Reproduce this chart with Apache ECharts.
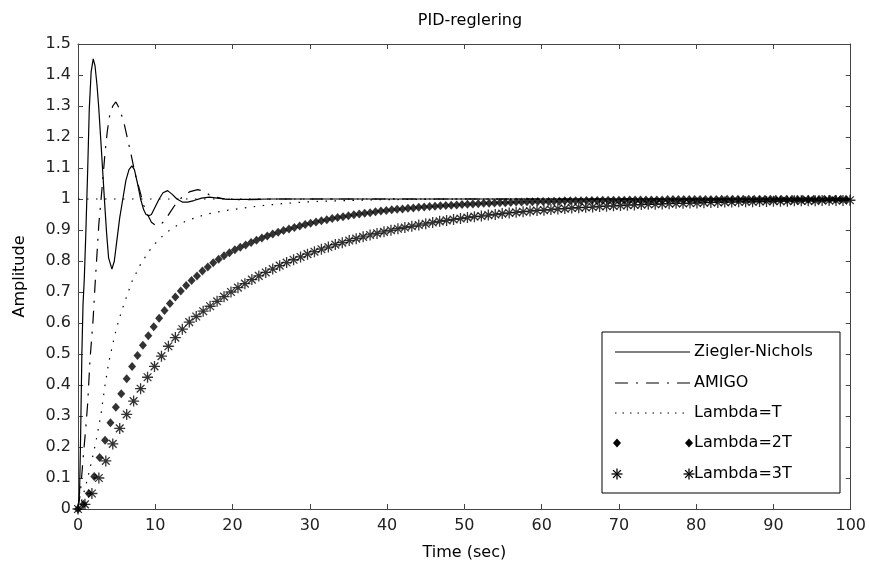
<!DOCTYPE html>
<html>
<head>
<meta charset="UTF-8">
<title>PID-reglering</title>
<script src="https://cdn.jsdelivr.net/npm/echarts@6.0.0/dist/echarts.min.js"></script>
<style>
  html, body { margin: 0; padding: 0; background: #fff; }
  #chart { width: 869px; height: 572px; }
</style>
</head>
<body>
<div id="chart"></div>
<script>
// values (time in sec, amplitude)
var tZN = [0, 0.2, 0.35, 0.5, 0.65, 0.81, 1.0, 1.25, 1.46, 1.7,
    1.97, 2.2, 2.45, 2.67, 3.0, 3.4, 3.7, 3.96, 4.39, 4.7,
    5.0, 5.4, 5.8, 6.2, 6.6, 6.97, 7.3, 7.7, 8.1, 8.5,
    8.8, 9.16, 9.5, 10, 10.5, 11, 11.6, 12.2, 12.8, 13.5,
    14.2, 15, 16, 17, 18, 19, 20, 22, 25, 100];
var yZN = [0, 0.05, 0.25, 0.5, 0.66, 0.74, 0.88, 1.09, 1.29, 1.41,
    1.452, 1.43, 1.37, 1.30, 1.17, 1.006, 0.89, 0.81, 0.774, 0.80,
    0.86, 0.94, 1.0, 1.06, 1.095, 1.107, 1.095, 1.05, 1.0, 0.965,
    0.95, 0.946, 0.95, 0.975, 1.0, 1.02, 1.027, 1.015, 1.0, 0.99,
    0.99, 0.995, 1.003, 1.006, 1.003, 1.0, 0.999, 0.999, 1.0, 1.0];

var tAmigo = [0, 0.3, 0.65, 1, 1.25, 1.55, 1.95, 2.2, 2.45, 2.7,
    2.95, 3.2, 3.5, 3.8, 4.1, 4.5, 4.9, 5.4, 6, 6.45,
    6.9, 7.4, 7.96, 8.5, 9, 9.5, 10.1, 10.7, 11.2, 12,
    12.8, 13.8, 14.5, 15.5, 16.3, 17, 18, 19, 20, 22,
    25, 100];
var yAmigo = [0, 0.05, 0.16, 0.26, 0.34, 0.48, 0.61, 0.72, 0.82, 0.92,
    0.99, 1.06, 1.15, 1.22, 1.27, 1.30, 1.313, 1.29, 1.24, 1.19,
    1.14, 1.08, 1.03, 0.98, 0.95, 0.925, 0.914, 0.918, 0.93, 0.96,
    0.99, 1.013, 1.024, 1.03, 1.025, 1.013, 1.005, 1.0, 0.998, 0.998,
    1.0, 1.0];

var tLamT = [0, 0.5, 1, 1.5, 2, 2.5, 3, 3.5, 4, 4.5,
    5, 5.5, 6, 6.5, 7, 7.5, 8, 8.5, 9, 9.5,
    10, 11, 12, 13, 14, 15, 16, 17, 18, 20,
    22, 24, 26, 28, 30, 33, 36, 40, 50, 100];
var yLamT = [0, 0.03, 0.075, 0.125, 0.18, 0.24, 0.31, 0.4, 0.475, 0.533,
    0.585, 0.627, 0.665, 0.70, 0.735, 0.76, 0.785, 0.805, 0.825, 0.842,
    0.857, 0.882, 0.902, 0.917, 0.929, 0.938, 0.946, 0.953, 0.958, 0.966,
    0.973, 0.979, 0.984, 0.988, 0.991, 0.994, 0.996, 0.998, 1.0, 1.0];

var tLam2 = [0, 0.7, 1.4, 2.1, 2.8, 3.5, 4.2, 4.9, 5.6, 6.3,
    7, 7.7, 8.4, 9.1, 9.8, 10.5, 11.2, 11.9, 12.6, 13.3,
    14, 14.7, 15.4, 16.1, 16.8, 17.5, 18.2, 18.9, 19.6, 20.3,
    21, 21.7, 22.4, 23.1, 23.8, 24.5, 25.2, 25.9, 26.6, 27.3,
    28, 28.7, 29.4, 30.1, 30.8, 31.5, 32.2, 32.9, 33.6, 34.3,
    35, 35.7, 36.4, 37.1, 37.8, 38.5, 39.2, 39.9, 40.6, 41.3,
    42, 42.7, 43.4, 44.1, 44.8, 45.5, 46.2, 46.9, 47.6, 48.3,
    49, 49.7, 50.4, 51.1, 51.8, 52.5, 53.2, 53.9, 54.6, 55.3,
    56, 56.7, 57.4, 58.1, 58.8, 59.5, 60.2, 60.9, 61.6, 62.3,
    63, 63.7, 64.4, 65.1, 65.8, 66.5, 67.2, 67.9, 68.6, 69.3,
    70, 70.7, 71.4, 72.1, 72.8, 73.5, 74.2, 74.9, 75.6, 76.3,
    77, 77.7, 78.4, 79.1, 79.8, 80.5, 81.2, 81.9, 82.6, 83.3,
    84, 84.7, 85.4, 86.1, 86.8, 87.5, 88.2, 88.9, 89.6, 90.3,
    91, 91.7, 92.4, 93.1, 93.8, 94.5, 95.2, 95.9, 96.6, 97.3,
    98, 98.7, 99.4];
var yLam2 = [0, 0.015, 0.05, 0.105, 0.166, 0.222, 0.278, 0.328, 0.372, 0.42,
    0.46, 0.495, 0.528, 0.559, 0.588, 0.615, 0.64, 0.663, 0.684, 0.703,
    0.721, 0.737, 0.752, 0.768, 0.781, 0.794, 0.806, 0.817, 0.827, 0.836,
    0.844, 0.852, 0.86, 0.867, 0.874, 0.881, 0.887, 0.893, 0.898, 0.903,
    0.908, 0.913, 0.918, 0.922, 0.926, 0.93, 0.933, 0.937, 0.94, 0.943,
    0.946, 0.949, 0.952, 0.954, 0.956, 0.959, 0.961, 0.963, 0.965, 0.967,
    0.968, 0.97, 0.971, 0.973, 0.974, 0.976, 0.977, 0.978, 0.979, 0.98,
    0.981, 0.982, 0.983, 0.984, 0.985, 0.986, 0.986, 0.987, 0.988, 0.988,
    0.989, 0.99, 0.99, 0.991, 0.991, 0.992, 0.992, 0.992, 0.993, 0.993,
    0.994, 0.994, 0.994, 0.994, 0.995, 0.995, 0.995, 0.996, 0.996, 0.996,
    0.996, 0.996, 0.997, 0.997, 0.997, 0.997, 0.997, 0.997, 0.997, 0.998,
    0.998, 0.998, 0.998, 0.998, 0.998, 0.998, 0.998, 0.998, 0.998, 0.999,
    0.999, 0.999, 0.999, 0.999, 0.999, 0.999, 0.999, 0.999, 0.999, 0.999,
    0.999, 0.999, 0.999, 0.999, 0.999, 0.999, 0.999, 0.999, 0.999, 0.999,
    0.999, 0.999, 0.999];

var tLam3 = [0, 0.9, 1.8, 2.7, 3.6, 4.5, 5.4, 6.3, 7.2, 8.1,
    9, 9.9, 10.8, 11.7, 12.6, 13.5, 14.4, 15.3, 16.2, 17.1,
    18, 18.9, 19.8, 20.7, 21.6, 22.5, 23.4, 24.3, 25.2, 26.1,
    27, 27.9, 28.8, 29.7, 30.6, 31.5, 32.4, 33.3, 34.2, 35.1,
    36, 36.9, 37.8, 38.7, 39.6, 40.5, 41.4, 42.3, 43.2, 44.1,
    45, 45.9, 46.8, 47.7, 48.6, 49.5, 50.4, 51.3, 52.2, 53.1,
    54, 54.9, 55.8, 56.7, 57.6, 58.5, 59.4, 60.3, 61.2, 62.1,
    63, 63.9, 64.8, 65.7, 66.6, 67.5, 68.4, 69.3, 70.2, 71.1,
    72, 72.9, 73.8, 74.7, 75.6, 76.5, 77.4, 78.3, 79.2, 80.1,
    81, 81.9, 82.8, 83.7, 84.6, 85.5, 86.4, 87.3, 88.2, 89.1,
    90, 90.9, 91.8, 92.7, 93.6, 94.5, 95.4, 96.3, 97.2, 98.1,
    99, 99.9];
var yLam3 = [0, 0.015, 0.05, 0.1, 0.155, 0.21, 0.26, 0.305, 0.348, 0.388,
    0.425, 0.46, 0.493, 0.525, 0.553, 0.58, 0.603, 0.621, 0.638, 0.654,
    0.67, 0.685, 0.7, 0.714, 0.727, 0.74, 0.752, 0.763, 0.774, 0.785,
    0.795, 0.804, 0.813, 0.822, 0.83, 0.838, 0.845, 0.853, 0.859, 0.866,
    0.872, 0.878, 0.884, 0.889, 0.894, 0.899, 0.904, 0.908, 0.912, 0.916,
    0.92, 0.924, 0.928, 0.931, 0.934, 0.937, 0.94, 0.943, 0.945, 0.948,
    0.95, 0.953, 0.955, 0.957, 0.959, 0.961, 0.963, 0.964, 0.966, 0.968,
    0.969, 0.971, 0.972, 0.973, 0.974, 0.976, 0.977, 0.978, 0.979, 0.98,
    0.981, 0.982, 0.983, 0.983, 0.984, 0.985, 0.986, 0.986, 0.987, 0.987,
    0.988, 0.989, 0.989, 0.99, 0.99, 0.991, 0.991, 0.991, 0.992, 0.992,
    0.993, 0.993, 0.993, 0.994, 0.994, 0.994, 0.994, 0.995, 0.995, 0.995,
    0.995, 0.996];

// dotted steady-state line
var tRef = [0, 100];
var yRef = [1, 1];

var names = ['Ziegler-Nichols', 'AMIGO', 'Lambda=T', 'Lambda=2T', 'Lambda=3T'];

var FONT = '"DejaVu Sans", Verdana, sans-serif';
var FS = 16;
var AXIS_COLOR = '#444';
var DASHDOT = [13, 8, 2, 8];
var DOTS = [1.5, 7.5];
var STAR = 'path://M0,5L10,5M5,0L5,10M1.5,1.5L8.5,8.5M1.5,8.5L8.5,1.5';

function pairs(t, y) {
    var out = [];
    for (var i = 0; i < t.length; i++) out.push([t[i], y[i]]);
    return out;
}

function axisBase(extra) {
    var a = {
        type: 'value',
        axisLine: {onZero: false, lineStyle: {color: AXIS_COLOR, width: 1}},
        axisTick: {inside: true, length: 5, lineStyle: {color: AXIS_COLOR}},
        splitLine: {show: false},
        axisLabel: {show: false}
    };
    for (var k in extra) a[k] = extra[k];
    return a;
}

// legend drawn as a MATLAB style box
var LX = 602, LY = 332, LW = 238, LH = 161;
var rowY = [352, 383, 413, 443, 474];
var sx0 = 615, sx1 = 690, textX = 694;

function diamond(x, y) {
    return {type: 'polygon', shape: {points: [[x, y - 4.5], [x + 4, y], [x, y + 4.5], [x - 4, y]]},
        style: {fill: '#000'}, z: 101};
}
function star(x, y) {
    var r = 5.5, d = 3.9;
    var segs = [[x - r, y, x + r, y], [x, y - r, x, y + r], [x - d, y - d, x + d, y + d], [x - d, y + d, x + d, y - d]];
    return segs.map(function (s) {
        return {type: 'line', shape: {x1: s[0], y1: s[1], x2: s[2], y2: s[3]},
            style: {stroke: '#000', lineWidth: 1.3}, z: 101};
    });
}

var legendItems = [{type: 'rect', shape: {x: LX, y: LY, width: LW, height: LH},
    style: {fill: '#fff', stroke: '#000', lineWidth: 1}, z: 100}];
var dashes = [null, DASHDOT, [1.5, 6]];
for (var i = 0; i < 3; i++) {
    legendItems.push({type: 'line', shape: {x1: sx0, y1: rowY[i], x2: sx1, y2: rowY[i]},
        style: {stroke: '#000', lineWidth: 1, lineDash: dashes[i]}, z: 101});
}
legendItems.push(diamond(sx0 + 2, rowY[3]), diamond(sx1 - 1, rowY[3]));
legendItems = legendItems.concat(star(sx0 + 2, rowY[4]), star(sx1 - 1, rowY[4]));
names.forEach(function (n, i) {
    legendItems.push({type: 'text', x: textX, y: rowY[i],
        style: {text: n, font: FS + 'px ' + FONT, fill: '#000', textVerticalAlign: 'middle', verticalAlign: 'middle'}, z: 101});
});

var myChart = echarts.init(document.getElementById('chart'));
var option = {
    animation: false,
    backgroundColor: '#fff',
    textStyle: {fontFamily: FONT},
    title: {
        text: 'PID-reglering', left: 465, top: 8, textAlign: 'center',
        textStyle: {fontFamily: FONT, fontSize: FS, fontWeight: 'normal', color: '#000'}
    },
    grid: {left: 78, right: 16, top: 44, bottom: 63},
    xAxis: [
        axisBase({
            min: 0, max: 100, interval: 10, position: 'bottom',
            name: 'Time (sec)', nameLocation: 'middle', nameGap: 36,
            nameTextStyle: {fontFamily: FONT, fontSize: FS, color: '#000'},
            axisLabel: {show: true, margin: 9, fontFamily: FONT, fontSize: FS, color: '#222'}
        }),
        axisBase({min: 0, max: 100, interval: 10, position: 'top'})
    ],
    yAxis: [
        axisBase({
            min: 0, max: 1.5, interval: 0.1, position: 'left',
            name: 'Amplitude', nameLocation: 'middle', nameGap: 50, nameRotate: 90,
            nameTextStyle: {fontFamily: FONT, fontSize: FS, color: '#000'},
            axisLabel: {show: true, margin: 7, fontFamily: FONT, fontSize: FS, color: '#222'}
        }),
        axisBase({min: 0, max: 1.5, interval: 0.1, position: 'right'})
    ],
    series: [
        {
            name: 'steady', type: 'line', data: pairs(tRef, yRef), symbol: 'none', silent: true, z: 1,
            lineStyle: {color: '#000', width: 1, type: DOTS}
        },
        {
            name: names[0], type: 'line', data: pairs(tZN, yZN), symbol: 'none', z: 5,
            lineStyle: {color: '#000', width: 1.2, type: 'solid'}
        },
        {
            name: names[1], type: 'line', data: pairs(tAmigo, yAmigo), symbol: 'none', z: 4,
            lineStyle: {color: '#000', width: 1.2, type: DASHDOT}
        },
        {
            name: names[2], type: 'line', data: pairs(tLamT, yLamT), symbol: 'none', z: 3,
            lineStyle: {color: '#000', width: 1.2, type: DOTS}
        },
        {
            name: names[3], type: 'scatter', data: pairs(tLam2, yLam2), z: 3,
            symbol: 'diamond', symbolSize: [8, 9],
            itemStyle: {color: '#000'}
        },
        {
            name: names[4], type: 'scatter', data: pairs(tLam3, yLam3), z: 3,
            symbol: STAR, symbolSize: 11,
            itemStyle: {color: '#000', borderColor: '#000', borderWidth: 1.3}
        }
    ],
    graphic: legendItems
};
myChart.setOption(option);
</script>
</body>
</html>
